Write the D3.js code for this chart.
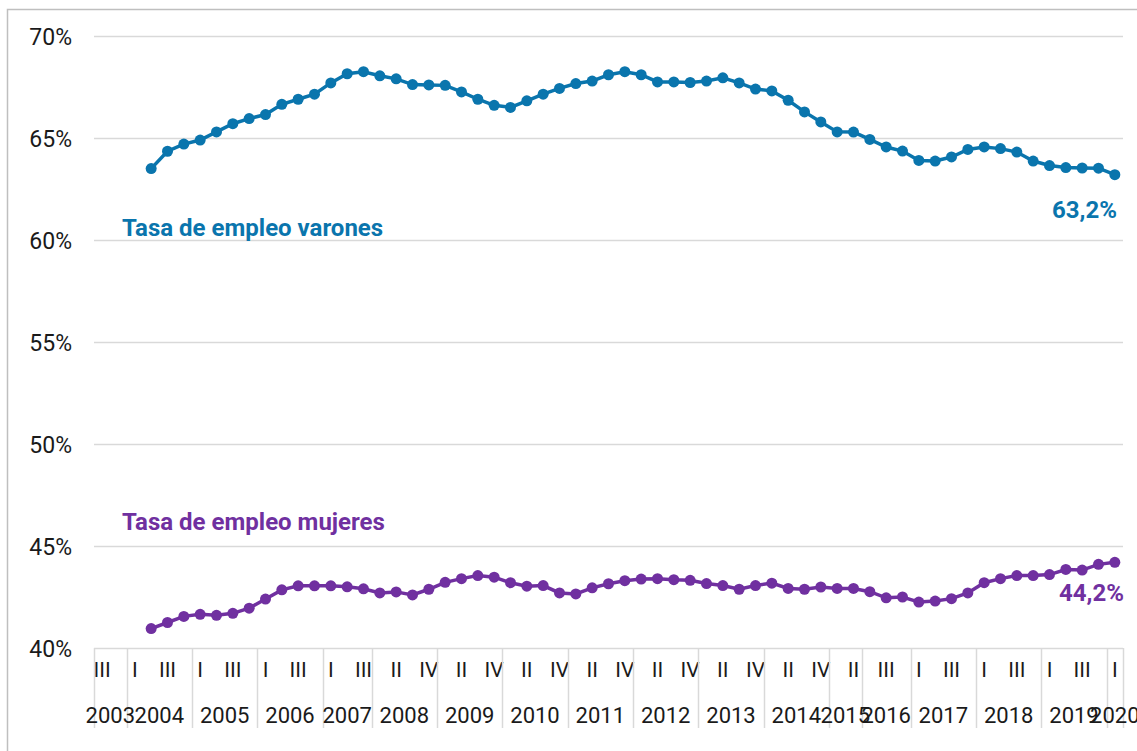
<!DOCTYPE html>
<html lang="es">
<head>
  <meta charset="UTF-8">
  <title>Tasa de empleo</title>
  <style>
    body{ margin:0; background:#fff; }
    svg{ font-family: Roboto, "Liberation Sans", sans-serif; }
  </style>
</head>
<body>
<svg width="1137" height="751"></svg>

<script src="https://cdn.jsdelivr.net/npm/d3@7/dist/d3.min.js"></script>
<script>
  // años y trimestres presentes (faltan 2007 IV, 2015 III-IV y 2016 I)
  var years = ['2003','2004','2005','2006','2007','2008','2009','2010','2011','2012','2013','2014','2015','2016','2017','2018','2019','2020'];
  var quartersByYear = [
    ['III','IV'],
    ['I','II','III','IV'], ['I','II','III','IV'], ['I','II','III','IV'],
    ['I','II','III'],
    ['I','II','III','IV'], ['I','II','III','IV'], ['I','II','III','IV'], ['I','II','III','IV'],
    ['I','II','III','IV'], ['I','II','III','IV'], ['I','II','III','IV'],
    ['I','II'],
    ['II','III','IV'],
    ['I','II','III','IV'], ['I','II','III','IV'], ['I','II','III','IV'],
    ['I']
  ];
  // tasa de empleo (%), null = sin dato
  var varones = [null, null, null,
    63.5, 64.35, 64.7, 64.9, 65.3, 65.7, 65.95, 66.15, 66.65, 66.9,
    67.15, 67.7, 68.15, 68.25, 68.05, 67.9, 67.62, 67.6, 67.58, 67.26,
    66.9, 66.6, 66.5, 66.82, 67.15, 67.43, 67.67, 67.79, 68.1, 68.25,
    68.1, 67.75, 67.75, 67.72, 67.79, 67.95, 67.7, 67.4, 67.31, 66.85,
    66.28, 65.79, 65.3, 65.29, 64.93, 64.56, 64.36, 63.9, 63.87, 64.07,
    64.44, 64.56, 64.48, 64.31, 63.87, 63.65, 63.55, 63.53, 63.52, 63.2];
  var mujeres = [null, null, null,
    40.95, 41.25, 41.55, 41.65, 41.6, 41.7, 41.95, 42.4, 42.85, 43.05,
    43.05, 43.05, 43.0, 42.9, 42.7, 42.75, 42.6, 42.88, 43.22, 43.4,
    43.55, 43.47, 43.2, 43.03, 43.06, 42.7, 42.65, 42.95, 43.15, 43.3,
    43.38, 43.4, 43.35, 43.32, 43.16, 43.06, 42.88, 43.06, 43.18, 42.92,
    42.88, 42.99, 42.92, 42.92, 42.76, 42.46, 42.5, 42.25, 42.3, 42.42,
    42.7, 43.2, 43.4, 43.55, 43.55, 43.6, 43.85, 43.82, 44.1, 44.2];
  var yTicks = [40, 45, 50, 55, 60, 65, 70];

  var colorV = '#0a75ad', colorM = '#7030a0', gridColor = '#d9d9d9';

  // categorías trimestrales
  var cats = [];
  years.forEach(function (y, i) {
    quartersByYear[i].forEach(function (q) {
      cats.push({id: y + '-' + q, year: y, q: q});
    });
  });

  var svg = d3.select('svg');
  var plot = {left: 94, right: 1123, top: 36, bottom: 648};

  var x = d3.scaleBand().domain(cats.map(function (d) { return d.id; })).range([plot.left, plot.right]);
  var y = d3.scaleLinear().domain([40, 70]).range([plot.bottom, plot.top]);

  // marco exterior
  svg.append('path').attr('d', 'M7.5,751V9.5H1137')
    .attr('fill', 'none').attr('stroke', '#bfbfbf').attr('stroke-width', 1.5);

  // rejilla
  svg.append('g').selectAll('line').data(yTicks).enter().append('line')
    .attr('x1', plot.left).attr('x2', plot.right)
    .attr('y1', function (d) { return Math.round(y(d)) + 0.5; })
    .attr('y2', function (d) { return Math.round(y(d)) + 0.5; })
    .attr('stroke', gridColor).attr('stroke-width', 1.5);

  // eje Y
  var yAxis = svg.append('g').attr('transform', 'translate(72,0)')
    .call(d3.axisLeft(y).tickValues(yTicks).tickSize(0).tickPadding(0)
      .tickFormat(function (d) { return d + '%'; }));
  yAxis.select('.domain').remove();
  yAxis.selectAll('text').attr('font-family', 'Roboto').attr('font-size', 23).attr('fill', '#1a1a1a')
    .attr('dy', '0.35em');

  // eje X: trimestres (uno de cada dos)
  var xAxis = svg.append('g').attr('transform', 'translate(0,' + plot.bottom + ')')
    .call(d3.axisBottom(x).tickSize(0).tickPadding(14)
      .tickFormat(function (d, i) { return i % 2 === 0 ? cats[i].q : ''; }));
  xAxis.select('.domain').remove();
  xAxis.selectAll('text').attr('font-family', 'Roboto').attr('font-size', 21).attr('fill', '#1a1a1a');

  // años: separadores y etiquetas
  var yearGroups = d3.groups(cats, function (d) { return d.year; }).map(function (g) {
    var ids = g[1].map(function (d) { return d.id; });
    return {year: g[0], x0: x(ids[0]), x1: x(ids[ids.length - 1]) + x.bandwidth()};
  });
  var bounds = yearGroups.map(function (d) { return d.x0; }).concat([plot.right]);
  svg.append('g').selectAll('line').data(bounds).enter().append('line')
    .attr('x1', function (d) { return Math.round(d) + 0.5; })
    .attr('x2', function (d) { return Math.round(d) + 0.5; })
    .attr('y1', plot.bottom).attr('y2', 728)
    .attr('stroke', gridColor).attr('stroke-width', 1.5);
  svg.append('g').selectAll('text').data(yearGroups).enter().append('text')
    .attr('x', function (d) { return (d.x0 + d.x1) / 2; })
    .attr('y', 723)
    .attr('text-anchor', 'middle')
    .attr('font-size', 22).attr('fill', '#1a1a1a')
    .text(function (d) { return d.year; });

  // series
  function drawSeries(values, color) {
    var pts = values.map(function (v, i) { return {id: cats[i].id, v: v}; })
      .filter(function (d) { return d.v !== null; });
    var line = d3.line()
      .x(function (d) { return x(d.id) + x.bandwidth() / 2; })
      .y(function (d) { return y(d.v); });
    svg.append('path').datum(pts).attr('d', line)
      .attr('fill', 'none').attr('stroke', color).attr('stroke-width', 3.5);
    svg.append('g').selectAll('circle').data(pts).enter().append('circle')
      .attr('cx', function (d) { return x(d.id) + x.bandwidth() / 2; })
      .attr('cy', function (d) { return y(d.v); })
      .attr('r', 5.5).attr('fill', color);
    return pts[pts.length - 1];
  }
  var lastV = drawSeries(varones, colorV);
  var lastM = drawSeries(mujeres, colorM);

  // etiquetas de serie
  svg.append('text').attr('x', 122).attr('y', 236).attr('font-size', 24).attr('font-weight', 'bold')
    .attr('fill', colorV).text('Tasa de empleo varones');
  svg.append('text').attr('x', 122).attr('y', 530).attr('font-size', 24).attr('font-weight', 'bold')
    .attr('fill', colorM).text('Tasa de empleo mujeres');

  // valores finales
  var fmt = function (v) { return v.toFixed(1).replace('.', ',') + '%'; };
  svg.append('text').attr('x', 1117).attr('y', y(lastV.v) + 43).attr('text-anchor', 'end')
    .attr('font-size', 24).attr('font-weight', 'bold').attr('fill', colorV).text(fmt(lastV.v));
  svg.append('text').attr('x', 1124).attr('y', y(lastM.v) + 39).attr('text-anchor', 'end')
    .attr('font-size', 24).attr('font-weight', 'bold').attr('fill', colorM).text(fmt(lastM.v));
</script>
</body>
</html>
